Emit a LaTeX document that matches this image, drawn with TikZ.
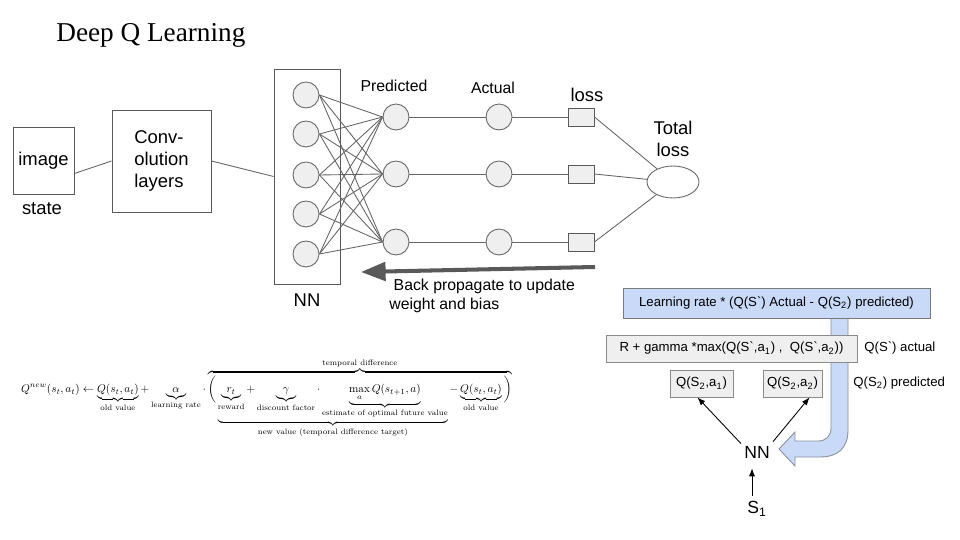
\documentclass[tikz,border=0pt]{standalone}
\usepackage{fontspec}
\setsansfont{Liberation Sans}
\newfontfamily\titlefont{Liberation Serif}
\usepackage{amsmath,amssymb}
\usepackage{graphicx}
\usepackage{tikz}
\usetikzlibrary{shapes.geometric, arrows.meta, positioning, calc}
\definecolor{wiregray}{HTML}{666666}
\definecolor{boxgray}{HTML}{595959}
\definecolor{cellfill}{HTML}{EFEFEF}
\definecolor{bluefill}{HTML}{C9DAF8}
\definecolor{blueedge}{HTML}{8A8F99}

\tikzset{
  lbl/.style={font=\sffamily\fontsize{10.5}{12.6}\selectfont, inner sep=0pt},
  small/.style={font=\sffamily\fontsize{7.5}{9}\selectfont, inner sep=0pt},
  plainbox/.style={draw=boxgray, line width=0.5pt, font=\sffamily\fontsize{10.5}{12.6}\selectfont},
  neuron/.style={circle, draw=wiregray, fill=cellfill, line width=0.5pt, minimum size=0.52cm, inner sep=0pt},
  lossbox/.style={draw=boxgray, fill=cellfill, line width=0.5pt, minimum width=0.52cm, minimum height=0.36cm, inner sep=0pt},
  wire/.style={draw=wiregray, line width=0.5pt},
  qbox/.style={draw=boxgray!70, fill=cellfill, line width=0.5pt, minimum height=0.54cm, inner sep=0pt,
    font=\sffamily\fontsize{7.5}{9}\selectfont},
  thin arrow/.style={-{Latex[length=4.5pt,width=3.5pt]}, line width=0.5pt, black}
}

\begin{document}
\begin{tikzpicture}[x=0.02cm, y=-0.02cm]
  \useasboundingbox (0,0) rectangle (960,540);

  % title
  \node[anchor=west, inner sep=0pt, font=\titlefont\fontsize{15.5}{18}\selectfont] (title) at (56,35) {Deep Q Learning};

  % input side
  \node[plainbox, minimum width=1.22cm, minimum height=1.34cm, inner sep=0pt] (img) at (43.5,160.5) {image};
  \node[lbl] (state) at (42,209) {state};
  \node[plainbox, minimum width=1.98cm, minimum height=2.04cm, align=left, inner sep=0pt] (conv) at (161.5,161) {Conv-\\olution\\layers};
  \node[draw=boxgray, line width=0.5pt, minimum width=1.32cm, minimum height=4.3cm] (nn) at (307,176.5) {};
  \node[lbl] (nnlbl) at (307,300) {NN};
  \draw[wire] ([yshift=-0.26cm]img.east) -- (conv.west);
  \draw[wire] (conv.east) -- (nn.west);

  % network layers
  \foreach \y [count=\i] in {95,134,175,214,254}
    \node[neuron] (n\i) at (306,\y) {};
  \foreach \y [count=\j] in {117,174,242} {
    \node[neuron] (p\j) at (396,\y) {};
    \node[neuron] (a\j) at (499,\y) {};
    \node[lossbox] (l\j) at (581,\y) {};
  }
  \foreach \i in {1,...,5}
    \foreach \j in {1,2,3}
      \draw[wire] (n\i.east) -- (p\j.west);

  \node[ellipse, draw=wiregray, line width=0.5pt, minimum width=1.04cm, minimum height=0.64cm] (tot) at (673,182) {};
  \foreach \j in {1,2,3} {
    \draw[wire] (p\j) -- (a\j);
    \draw[wire] (a\j) -- (l\j);
    \draw[wire] (l\j.east) -- (tot);
  }

  \node[lbl, font=\sffamily\fontsize{9}{10.8}\selectfont] (predlbl) at (394,86) {Predicted};
  \node[lbl, font=\sffamily\fontsize{9}{10.8}\selectfont] (actlbl) at (493,88) {Actual};
  \node[lbl, font=\sffamily\fontsize{10.5}{12.6}\selectfont] (losslbl) at (587,95) {loss};
  \node[lbl, align=center, font=\sffamily\fontsize{10.5}{12.5}\selectfont] (totlbl) at (673,139) {Total\\loss};

  % back propagation
  \coordinate (bpstart) at (595,267);
  \coordinate (bpend) at (361,272);
  \draw[boxgray, line width=2.3pt, -{Triangle[length=14pt,width=10.5pt]}] (bpstart) -- (bpend);
  \node[lbl, anchor=west, align=left, font=\sffamily\fontsize{9}{10.8}\selectfont] (bplbl) at (389,296)
    {\hspace{2.5pt}Back propagate to update\\weight and bias};

  % update rule
  \node[inner sep=0pt] (rule) at (266.5,398) {\resizebox{9.82cm}{!}{$\displaystyle
    Q^{new}(s_{t},a_{t}) \leftarrow \underbrace{Q(s_{t},a_{t})}_{\text{old value}}
    + \underbrace{\alpha}_{\text{learning rate}} \cdot
    \overbrace{\bigg( \underbrace{\underbrace{r_{t}}_{\text{reward}}
    + \underbrace{\gamma}_{\text{discount factor}} \cdot
    \underbrace{\max_{a} Q(s_{t+1},a)}_{\text{estimate of optimal future value}}}_{\text{new value (temporal difference target)}}
    - \underbrace{Q(s_{t},a_{t})}_{\text{old value}} \bigg)}^{\text{temporal difference}}$}};

  % feedback band
  \filldraw[draw=blueedge, fill=bluefill, line width=0.5pt]
    (831,316) -- (848,316) -- (848,430) .. controls (848,448) and (838,457) .. (820,457)
    -- (795,457) -- (795,466) -- (779,449) -- (795,432) -- (795,441) -- (818,441)
    .. controls (826,441) and (831,436) .. (831,428) -- cycle;

  % right side
  \node[draw=boxgray!80, fill=bluefill, line width=0.5pt, minimum width=6.14cm, minimum height=0.6cm, inner sep=0pt,
    font=\sffamily\fontsize{7.5}{9}\selectfont] (lr) at (776.5,303)
    {Learning rate * (Q(S\textasciigrave) Actual - Q(S\textsubscript{2}) predicted)};
  \node[qbox, minimum width=5.02cm] (target) at (731.5,348.5)
    {R + gamma *max(Q(S\textasciigrave,a\textsubscript{1}) ,\ \ Q(S\textasciigrave,a\textsubscript{2}))};
  \node[small, anchor=west] (actual) at (864,348) {Q(S\textasciigrave) actual};
  \node[qbox, minimum width=1.26cm] (qa1) at (701.5,383.5) {Q(S\textsubscript{2},a\textsubscript{1})};
  \node[qbox, minimum width=1.18cm] (qa2) at (792.5,383.5) {Q(S\textsubscript{2},a\textsubscript{2})};
  \node[small, anchor=west] (pred) at (853,383) {Q(S\textsubscript{2}) predicted};

  \node[lbl, font=\sffamily\fontsize{10}{12}\selectfont] (nnr) at (757,452) {NN};
  \node[lbl, font=\sffamily\fontsize{10}{12}\selectfont] (s1) at (757,509) {S\textsubscript{1}};
  \draw[thin arrow] ([xshift=-0.06cm, yshift=0.04cm]nnr.north west) -- ([xshift=-0.08cm]qa1.south);
  \draw[thin arrow] ([xshift=0.06cm, yshift=0.08cm]nnr.north east) -- ([xshift=0.34cm]qa2.south);
  \draw[thin arrow] ([xshift=-0.1cm, yshift=0.1cm]s1.north) -- ([xshift=-0.1cm, yshift=-0.2cm]nnr.south);
\end{tikzpicture}
\end{document}
